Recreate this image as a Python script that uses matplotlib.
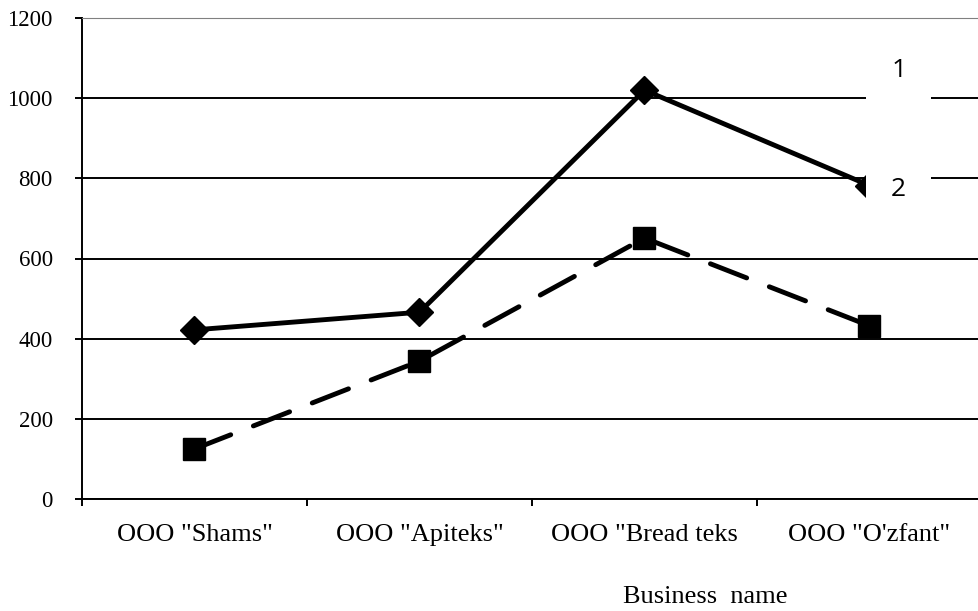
import numpy as np
import matplotlib.pyplot as plt

companies = ['OOO "Shams"', 'OOO "Apiteks"', 'OOO "Bread teks', 'OOO "O\'zfant"']
series1 = [422, 466, 1020, 782]
series2 = [125, 344, 651, 432]
yticks = [0, 200, 400, 600, 800, 1000, 1200]

plt.rcParams['font.family'] = 'Liberation Serif'

fig = plt.figure(figsize=(9.79, 6.11), dpi=100)
ax = fig.add_axes([82 / 979, 112 / 611, 900 / 979, 481 / 611])

x = np.arange(len(companies))

ax.plot(x, series1, color='black', lw=3.5, marker='D', markersize=14,
        solid_capstyle='round', zorder=3)
ax.plot(x, series2, color='black', lw=3.5, dashes=(8, 5), dash_capstyle='round',
        marker='s', markersize=15.5, zorder=3)

ax.set_xlim(-0.5, 3.5)
ax.set_ylim(0, 1200)
ax.set_yticks(yticks)
ax.yaxis.grid(True, color='black', lw=1.4)
ax.set_axisbelow(True)

ax.set_xticks(x)
ax.set_xticklabels(companies, fontsize=19)
ax.set_xticks(np.arange(-0.5, 4, 1), minor=True)
ax.tick_params(axis='x', which='major', length=0, pad=18)
ax.tick_params(axis='x', which='minor', length=5, width=1.4, direction='out')
ax.tick_params(axis='y', labelsize=16.5, length=5, width=1.4, direction='out', pad=16)

ax.spines['right'].set_visible(False)
ax.spines['top'].set_color('gray')
ax.spines['left'].set_linewidth(1.4)
ax.spines['bottom'].set_linewidth(1.4)

box = dict(facecolor='white', edgecolor='none', pad=18)
ax.text(3.13, 1070, '1', fontsize=19, family='Open Sans', ha='center', va='center',
        bbox=box, zorder=5)
ax.text(3.13, 772, '2', fontsize=19, family='Open Sans', ha='center', va='center',
        bbox=box, zorder=5)

fig.text(623 / 979, 1 - 586 / 611, 'Business  name', fontsize=19, ha='left', va='top')

fig.savefig('out.png', dpi=100)
